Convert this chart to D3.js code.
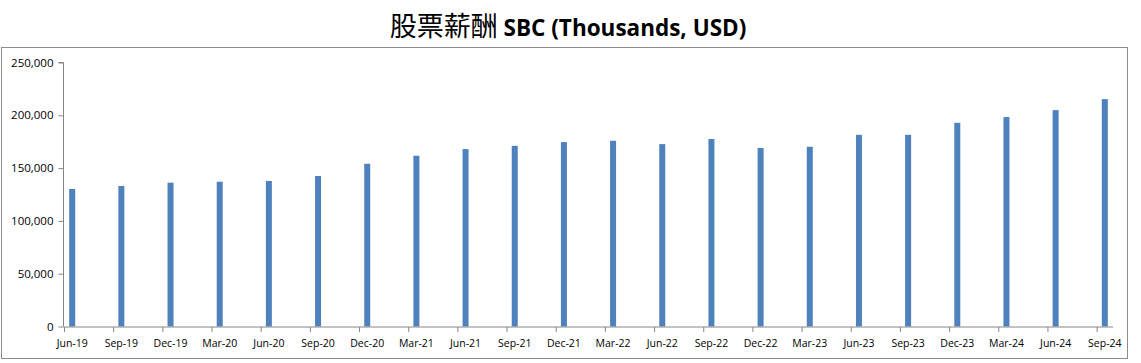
<!DOCTYPE html>
<html><head><meta charset="utf-8">
<script src="https://cdn.jsdelivr.net/npm/d3@7/dist/d3.min.js"></script>
<style>
body{margin:0;background:#fff;}
svg{display:block;}
</style></head>
<body>
<svg id="chart" width="1141" height="363"></svg>
<script>
const categories = ["Jun-19","Sep-19","Dec-19","Mar-20","Jun-20","Sep-20","Dec-20","Mar-21","Jun-21","Sep-21","Dec-21","Mar-22","Jun-22","Sep-22","Dec-22","Mar-23","Jun-23","Sep-23","Dec-23","Mar-24","Jun-24","Sep-24"];
const sbcValues = [130200,133000,136200,137100,137800,142500,154100,161700,168000,171100,174600,175900,172700,177500,169000,170200,181500,181500,192900,198300,204900,215300];
const yTickValues = [0,50000,100000,150000,200000,250000];
const titleCn = "股票薪酬";
const titleEn = " SBC (Thousands, USD)";

(function(){
const svg = d3.select("#chart");
const pLeft = 64, pRight = 1113, pTop = 62.5, pBottom = 326.5;
const monthsPerCat = 3;
const totalMonths = categories.length * monthsPerCat - 2; // Jun-19 .. Sep-24 = 64 months

// frame
svg.append("rect").attr("x",1.5).attr("y",47.5).attr("width",1126).attr("height",311)
  .attr("fill","none").attr("stroke","#8c8c8c").attr("stroke-width",1);

// title
const title = svg.append("text").attr("x",568).attr("y",36).attr("text-anchor","middle")
  .attr("fill","#000");
title.append("tspan").text(titleCn).attr("font-family","'Noto Sans CJK TC'").attr("font-size","27px").attr("font-weight","400");
title.append("tspan").text(titleEn).attr("font-family","'Open Sans','Liberation Sans',sans-serif").attr("font-size","22.5px").attr("font-weight","700");

const x = d3.scaleLinear().domain([0,totalMonths]).range([pLeft,pRight]);
const y = d3.scaleLinear().domain([0,250000]).range([pBottom,pTop]);

// bars
const barW = 6;
svg.append("g").selectAll("rect").data(sbcValues).join("rect")
  .attr("x",(d,i)=>x(i*monthsPerCat+0.5)-barW/2)
  .attr("y",d=>y(d))
  .attr("width",barW)
  .attr("height",d=>y(0)-y(d))
  .attr("fill","#4f81bd");

// y axis
const yAxis = d3.axisLeft(y).tickValues(yTickValues).tickSize(5).tickPadding(5)
  .tickFormat(d3.format(","));
const gy = svg.append("g").attr("transform",`translate(${pLeft-0.5},0)`).call(yAxis);
gy.select(".domain").attr("stroke","#868686").attr("d",`M-5,${pTop}H0V${pBottom}`);
gy.selectAll(".tick line").attr("stroke","#868686");
gy.selectAll(".tick text").attr("font-family","'Open Sans','DejaVu Sans',sans-serif").attr("font-size","11.5px").attr("fill","#000");

// x axis: ticks at category starts, labels centered on bars
const xAxis = d3.axisBottom(x).tickValues(d3.range(categories.length).map(i=>i*monthsPerCat))
  .tickSize(5).tickFormat("");
const gx = svg.append("g").attr("transform",`translate(0,${pBottom+0.5})`).call(xAxis);
gx.select(".domain").attr("stroke","#868686").attr("d",`M${pLeft-0.5},0H${pRight}`);
gx.selectAll(".tick line").attr("stroke","#868686");
svg.append("g").selectAll("text").data(categories).join("text")
  .attr("x",(d,i)=>x(i*monthsPerCat+0.5))
  .attr("y",347)
  .attr("text-anchor","middle")
  .attr("font-family","'Open Sans','DejaVu Sans',sans-serif").attr("font-size","10.5px").attr("fill","#000")
  .text(d=>d);
})();
</script>
</body></html>
